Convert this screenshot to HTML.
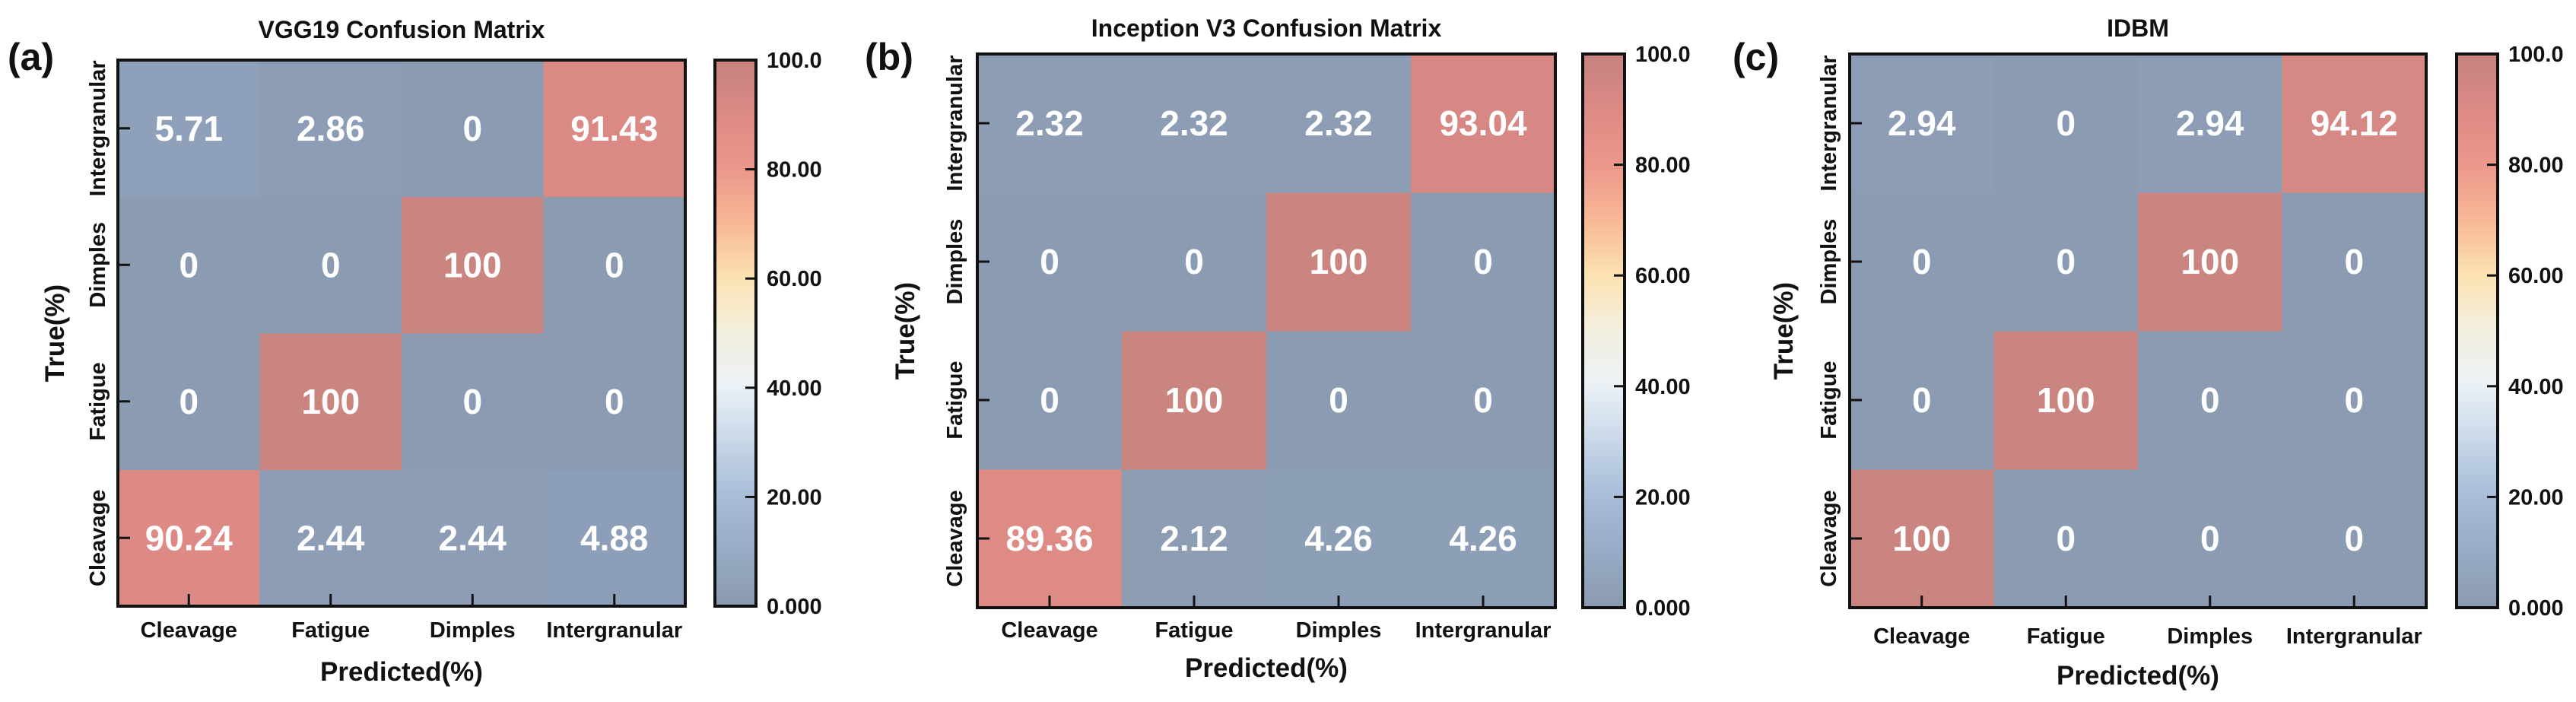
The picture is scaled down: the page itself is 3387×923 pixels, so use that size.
<!DOCTYPE html>
<html><head><meta charset="utf-8"><style>
html,body{margin:0;padding:0;background:#fff;}
svg{display:block;font-family:"Liberation Sans",Arial,sans-serif;font-weight:bold;}
</style></head><body>
<svg id="fig" width="3387" height="923" viewBox="0 0 3387 923" xmlns="http://www.w3.org/2000/svg">
<defs>
<linearGradient id="cmap" x1="0" y1="1" x2="0" y2="0">
<stop offset="0" stop-color="#8a9ab0"/>
<stop offset="0.2" stop-color="#a6bcd8"/>
<stop offset="0.4" stop-color="#eaf1f6"/>
<stop offset="0.5" stop-color="#f4f0e0"/>
<stop offset="0.6" stop-color="#fbe2b2"/>
<stop offset="0.7" stop-color="#f8b896"/>
<stop offset="0.8" stop-color="#eb978b"/>
<stop offset="0.9" stop-color="#dd8a86"/>
<stop offset="1" stop-color="#c4827f"/>
</linearGradient>
</defs>
</svg>
<script>
const categories = ["Cleavage","Fatigue","Dimples","Intergranular"];
const titles = ["VGG19 Confusion Matrix","Inception V3 Confusion Matrix","IDBM"];
const panelLetters = ["(a)","(b)","(c)"];
// rows: true class (Cleavage, Fatigue, Dimples, Intergranular); columns: predicted
const vggValues = [[90.24,2.44,2.44,4.88],[0,100,0,0],[0,0,100,0],[5.71,2.86,0,91.43]];
const inceptionValues = [[89.36,2.12,4.26,4.26],[0,100,0,0],[0,0,100,0],[2.32,2.32,2.32,93.04]];
const idbmValues = [[100,0,0,0],[0,100,0,0],[0,0,100,0],[2.94,0,2.94,94.12]];
const colorbarTicks = [0,20,40,60,80,100];
const colorbarTickLabels = ["0.000","20.00","40.00","60.00","80.00","100.0"];

const NS="http://www.w3.org/2000/svg";
const svg=document.getElementById('fig');
function mk(tag,attrs,parent){const e=document.createElementNS(NS,tag);for(const k in attrs)e.setAttribute(k,attrs[k]);(parent||svg).appendChild(e);return e;}
const cstops=[[0,[139,155,177]],[6,[142,160,186]],[20,[166,188,216]],[40,[234,241,246]],[50,[244,240,224]],[60,[251,226,178]],[70,[248,184,150]],[80,[235,151,139]],[90,[221,138,134]],[100,[202,133,129]]];
function color(v){for(let i=1;i<cstops.length;i++){if(v<=cstops[i][0]){const a=cstops[i-1],b=cstops[i];const t=(v-a[0])/(b[0]-a[0]);const c=a[1].map((x,j)=>Math.round(x+(b[1][j]-x)*t));return `rgb(${c.join(',')})`;}}return 'rgb(202,133,129)';}

const panels=[
 {vals:vggValues,L:155,R:901,T:79,B:797,cbL:940,cbR:994,letterX:10,titleY:50,yLabX:128,trueX:72,xlabY:838,predY:895},
 {vals:inceptionValues,L:1285,R:2045,T:71,B:799,cbL:2081,cbR:2136,letterX:1137,titleY:48,yLabX:1255,trueX:1190,xlabY:838,predY:890},
 {vals:idbmValues,L:2432,R:3190,T:71,B:799,cbL:3230,cbR:3284,letterX:2278,titleY:48,yLabX:2404,trueX:2345,xlabY:846,predY:900}
];
panels.forEach((p,pi)=>{
 const g=mk('g',{});
 
 
 const n=categories.length;
 const cw=(p.R-p.L)/n, ch=(p.B-p.T)/n;
 const xPos=c=>p.L+c*cw, yPos=r=>p.B-(r+1)*ch;
 p.vals.forEach((row,r)=>row.forEach((v,c)=>{
  const rect=mk('rect',{x:xPos(c),y:yPos(r),width:cw+0.5,height:ch+0.5,fill:color(v)},g);
  
  
  const t=mk('text',{x:xPos(c)+cw/2,y:yPos(r)+ch/2+16,'text-anchor':'middle','font-size':46,fill:'#fff'},g);
  t.textContent=String(v);
  
  
 }));
 const fr=mk('rect',{x:p.L,y:p.T,width:p.R-p.L,height:p.B-p.T,fill:'none',stroke:'#111','stroke-width':4},g);
 
 
 categories.forEach((cat,i)=>{
  const cx=xPos(i)+cw/2;
  mk('line',{x1:cx,x2:cx,y1:p.B,y2:p.B-16,stroke:'#111','stroke-width':3},g);
  const xt=mk('text',{x:cx,y:p.xlabY,'text-anchor':'middle','font-size':29,fill:'#111'},g);
  xt.textContent=cat;
  
  
  const cy=yPos(i)+ch/2;
  mk('line',{x1:p.L,x2:p.L+16,y1:cy,y2:cy,stroke:'#111','stroke-width':3},g);
  const yt=mk('text',{x:p.yLabX,y:cy,'text-anchor':'middle','font-size':29,fill:'#111',transform:`rotate(-90 ${p.yLabX} ${cy})`,dy:10},g);
  yt.textContent=cat;
  
  
 });
 const title=mk('text',{x:(p.L+p.R)/2,y:p.titleY,'text-anchor':'middle','font-size':32,fill:'#111'},g);
 title.textContent=titles[pi];
 
 
 const letter=mk('text',{x:p.letterX,y:92,'font-size':50,fill:'#111'},g);
 letter.textContent=panelLetters[pi];
 
 
 const xl=mk('text',{x:(p.L+p.R)/2,y:p.predY,'text-anchor':'middle','font-size':35,fill:'#111'},g);
 xl.textContent='Predicted(%)';
 
 
 const my=(p.T+p.B)/2;
 const yl=mk('text',{x:p.trueX,y:my,'text-anchor':'middle','font-size':35,fill:'#111',transform:`rotate(-90 ${p.trueX} ${my})`,dy:12},g);
 yl.textContent='True(%)';
 
 
 const cb=mk('rect',{x:p.cbL,y:p.T,width:p.cbR-p.cbL,height:p.B-p.T,fill:'url(#cmap)',stroke:'#111','stroke-width':4},g);
 
 
 const cbY=v=>p.B-(v/100)*(p.B-p.T);
 colorbarTicks.forEach((v,i)=>{
  const y=cbY(v);
  if(v>0&&v<100) mk('line',{x1:p.cbR-14,x2:p.cbR,y1:y,y2:y,stroke:'#111','stroke-width':3},g);
  const lt=mk('text',{x:p.cbR+14,y:y+10,'font-size':29,fill:'#111'},g);
  lt.textContent=colorbarTickLabels[i];
  
  
 });
});
</script>
</body></html>
